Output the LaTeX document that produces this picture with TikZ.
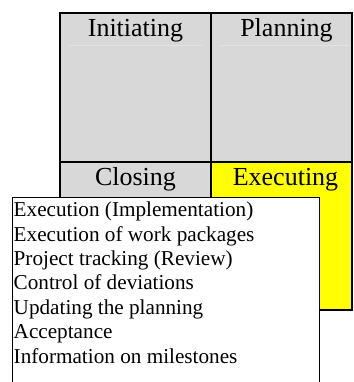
\documentclass[tikz,border=0pt]{standalone}
\usepackage{fontspec}
\setmainfont{Liberation Serif}
\definecolor{cellgray}{RGB}{216,216,216}
\definecolor{faintline}{RGB}{226,226,226}
\definecolor{execyellow}{RGB}{255,255,0}
\begin{document}
\begin{tikzpicture}[x=1pt,y=-1pt,
  grid/.style={draw=black,line width=2pt},
  head/.style={anchor=base,inner sep=0pt,font=\fontsize{26}{30}\selectfont},
  item/.style={anchor=base west,inner sep=0pt,font=\fontsize{21.2}{24.4}\selectfont}]
\useasboundingbox (0,0) rectangle (353,382);
\clip (0,0) rectangle (353,382);
% cells
\fill[cellgray] (60,13) rectangle (211,162);
\fill[cellgray] (211,13) rectangle (352.3,162);
\fill[cellgray] (60,162) rectangle (211,310);
\fill[execyellow] (211,162) rectangle (352.3,310);
\draw[faintline,line width=0.8pt] (69,45) -- (202,45);
\draw[faintline,line width=0.8pt] (220,45) -- (350,45);
% grid lines
\draw[grid] (60,13) rectangle (352.3,310);
\draw[grid] (211,13) -- (211,310);
\draw[grid] (60,162) -- (352.3,162);
% headings
\node[head] (ini) at (135.5,36.7) {Initiating};
\node[head] (pla) at (286.5,36.7) {Planning};
\node[head] (clo) at (135.5,185.7) {Closing};
\node[head] (exe) at (285.5,185.7) {Executing};
% detail box
\draw[fill=white,line width=1.8pt] (12.5,197.5) rectangle (319.5,392);
\node[item] (l1) at (13.5,216.7) {Execution (Implementation)};
\node[item] (l2) at (13.5,241.1) {Execution of work packages};
\node[item] (l3) at (13.5,265.5) {Project tracking (Review)};
\node[item] (l4) at (13.5,289.9) {Control of deviations};
\node[item] (l5) at (13.5,314.3) {Updating the planning};
\node[item] (l6) at (13.5,338.7) {Acceptance};
\node[item] (l7) at (13.5,363.1) {Information on milestones};
\end{tikzpicture}
\end{document}
